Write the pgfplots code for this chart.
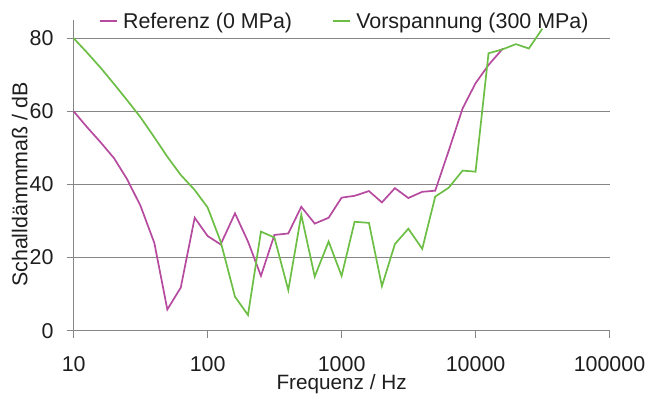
\documentclass[border=0pt]{standalone}
\usepackage{fontspec}
\setmainfont{Liberation Sans}
\usepackage{pgfplots}
\pgfplotsset{compat=1.18}
\definecolor{refc}{RGB}{181,74,158}
\definecolor{vorc}{RGB}{108,190,69}
\definecolor{gridc}{RGB}{134,134,134}
\definecolor{txtc}{RGB}{30,30,30}
\begin{document}
\begin{tikzpicture}
\begin{axis}[
  at={(0,0)}, anchor=south west,
  scale only axis, width=535.8bp, height=310.7bp,
  xmode=log, xmin=10, xmax=100000, ymin=0, ymax=85,
  axis lines=left, axis line style={gridc, line width=0.9bp, -},
  xtick={10,100,1000,10000,100000},
  xticklabels={10,100,1000,10000,100000},
  xminorticks=false,
  ytick={0,20,40,60,80},
  yticklabels={0,20,40,60,80},
  /pgf/number format/assume math mode=true,
  ymajorgrids, grid style={gridc, line width=0.9bp},
  tick style={gridc, line width=0.9bp}, tick align=outside, major tick length=7bp,
  font=\fontsize{21.5}{25}\selectfont,
  every tick label/.append style={text=txtc},
  xticklabel style={anchor=north, inner sep=0pt, yshift=-18.3bp},
  yticklabel style={anchor=east, inner sep=0pt, xshift=-13bp},
  every axis x label/.style={at={(axis description cs:0.5,0)}, anchor=base, inner sep=0pt, yshift=-58.5bp, text=txtc, font=\fontsize{20.8}{24}\selectfont},
  every axis y label/.style={at={(axis description cs:0,0.4706)}, xshift=-54bp, rotate=90, anchor=center, text=txtc},
  xlabel={Frequenz / Hz},
  ylabel={Schalldämmmaß / dB},
  legend columns=2,
  legend style={at={(axis description cs:0,1)}, anchor=west, xshift=22bp, yshift=-1bp, draw=none, fill=none,
    font=\fontsize{21.5}{25}\selectfont, text=txtc,
    /tikz/every odd column/.append style={column sep=3bp},
    /tikz/every even column/.append style={column sep=38bp}},
  legend image code/.code={\draw[#1] (0bp,0bp) -- (17.5bp,0bp);},
  clip=false,
]
\addplot[refc, line width=1.7bp] coordinates {
(10,60.0) (12.5,55.8) (16,51.4) (20,47.2) (25,41.5) (31.5,34.2) (40,24.0) (50,5.8) (63,11.8)
(80,30.9) (100,25.9) (125,23.6) (160,32.1) (200,24.4) (250,15.0) (315,26.2) (400,26.6)
(500,33.9) (630,29.3) (800,30.9) (1000,36.4) (1250,36.9) (1600,38.2) (2000,35.1) (2500,39.0)
(3150,36.3) (4000,38.0) (5000,38.3) (6300,49.2) (8000,60.8) (10000,67.7) (12500,72.7) (16000,77.2)
};
\addlegendentry{Referenz (0 MPa)}
\addplot[vorc, line width=1.7bp] coordinates {
(10,80.0) (12.5,76.2) (16,71.8) (20,67.5) (25,63.1) (31.5,58.4) (40,52.9) (50,47.6) (63,42.6)
(80,38.5) (100,33.7) (125,24.4) (160,9.3) (200,4.3) (250,27.1) (315,25.5) (400,11.1)
(500,31.7) (630,14.8) (800,24.4) (1000,15.0) (1250,29.8) (1600,29.5) (2000,12.2) (2500,23.7)
(3150,27.9) (4000,22.4) (5000,36.7) (6300,39.1) (8000,43.8) (10000,43.5) (12500,75.9)
(16000,77.0) (20000,78.4) (25000,77.2) (31500,82.6)
};
\addlegendentry{Vorspannung (300 MPa)}
\end{axis}
\pgfresetboundingbox
\path[use as bounding box] (-73.7bp,-63.3bp) rectangle (573.3bp,330.7bp);
\end{tikzpicture}
\end{document}
